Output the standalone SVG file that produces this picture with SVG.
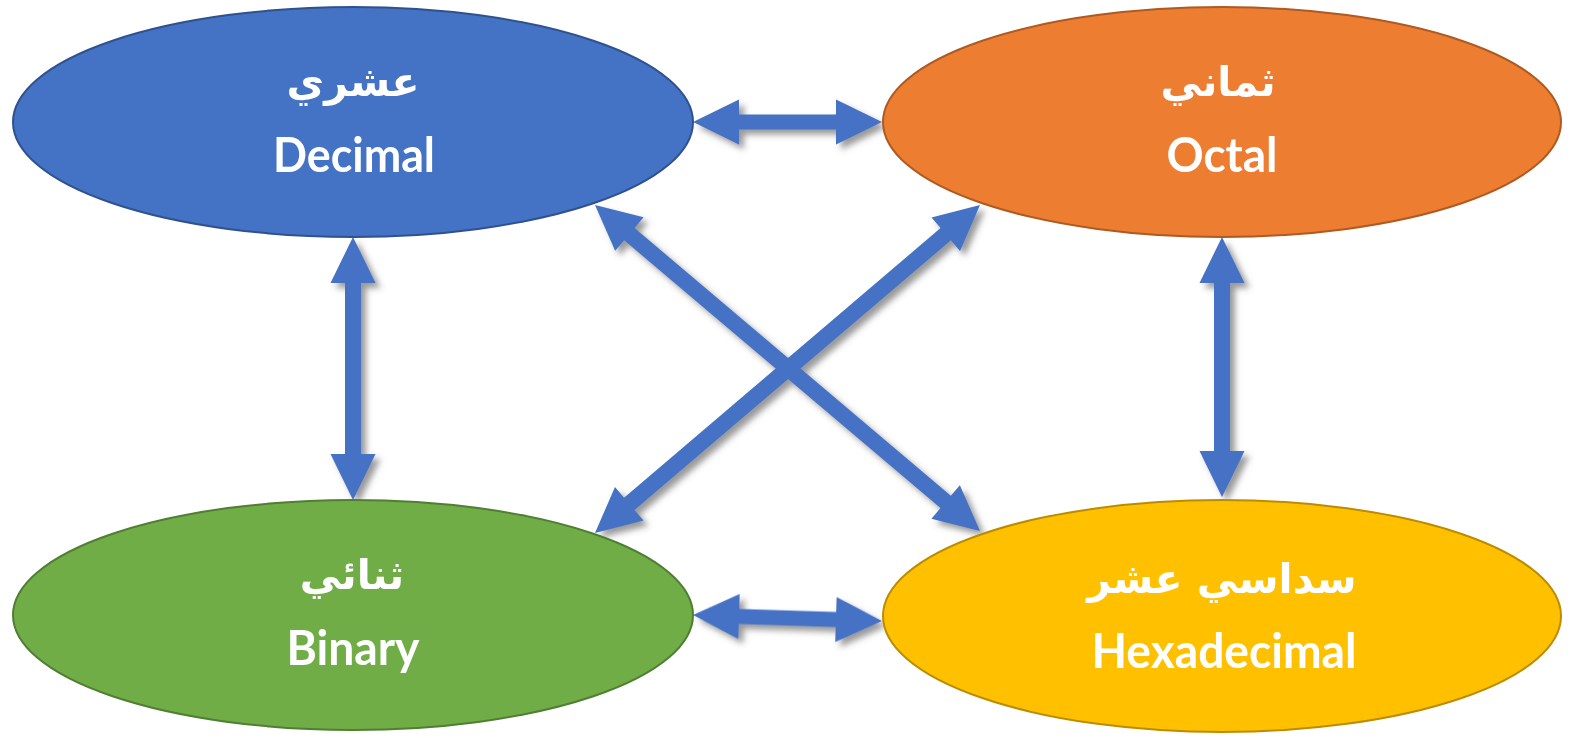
<svg xmlns="http://www.w3.org/2000/svg" width="1573" height="738" viewBox="0 0 1573 738">
<defs>
<filter id="sh" x="-20%" y="-20%" width="140%" height="140%">
<feDropShadow dx="5" dy="5" stdDeviation="3" flood-color="#555" flood-opacity="0.6"/>
</filter>
</defs>
<style>
.ar{font-family:"DejaVu Sans","Noto Sans",sans-serif;font-weight:bold;font-size:41px;fill:#fff;text-anchor:middle}
.en{font-family:Lato,"Open Sans",sans-serif;font-weight:bold;font-size:47px;fill:#fff;text-anchor:middle}
.arr{fill:#4472C4}
</style>
<rect width="1573" height="738" fill="#fff"/>
<g id="connectors" filter="url(#sh)">
<polygon class="arr" transform="translate(693,122)" points="0,0 46,-22.5 46,-7.5 143,-7.5 143,-22.5 189,0 143,22.5 143,7.5 46,7.5 46,22.5"/>
<polygon class="arr" transform="translate(693,615) rotate(1.82)" points="0,0 46,-22.5 46,-7.5 143,-7.5 143,-22.5 189,0 143,22.5 143,7.5 46,7.5 46,22.5"/>
<polygon class="arr" transform="translate(353,237) rotate(90)" points="0,0 46,-22.5 46,-8 217,-8 217,-22.5 263,0 217,22.5 217,8 46,8 46,22.5"/>
<polygon class="arr" transform="translate(1222,237) rotate(90)" points="0,0 46,-22.5 46,-8 214,-8 214,-22.5 260,0 214,22.5 214,8 46,8 46,22.5"/>
<polygon class="arr" transform="translate(595,205) rotate(40.26)" points="0,0 45,-22 45,-8 459.5,-8 459.5,-22 504.5,0 459.5,22 459.5,8 45,8 45,22"/>
<polygon class="arr" transform="translate(980,205) rotate(139.57)" points="0,0 45,-22 45,-8 460.8,-8 460.8,-22 505.8,0 460.8,22 460.8,8 45,8 45,22"/>
</g>
<g id="decimal">
<ellipse cx="353" cy="122" rx="340" ry="115" fill="#4472C4" stroke="#2F528F" stroke-width="2"/>
<text class="ar" x="353" y="96">عشري</text>
<text class="en" x="354" y="172" textLength="162" lengthAdjust="spacingAndGlyphs">Decimal</text>
</g>
<g id="octal">
<ellipse cx="1222" cy="122" rx="339" ry="115" fill="#ED7D31" stroke="#AE5A21" stroke-width="2"/>
<text class="ar" x="1218" y="96">ثماني</text>
<text class="en" x="1222" y="172" textLength="111" lengthAdjust="spacingAndGlyphs">Octal</text>
</g>
<g id="binary">
<ellipse cx="353" cy="615" rx="340" ry="115" fill="#70AD47" stroke="#507E32" stroke-width="2"/>
<text class="ar" x="352" y="589">ثنائي</text>
<text class="en" x="353" y="665" textLength="133" lengthAdjust="spacingAndGlyphs">Binary</text>
</g>
<g id="hexadecimal">
<ellipse cx="1222" cy="616" rx="339" ry="116" fill="#FFC000" stroke="#BC8C00" stroke-width="2"/>
<text class="ar" x="1222" y="593">سداسي عشر</text>
<text class="en" x="1224" y="668" textLength="265" lengthAdjust="spacingAndGlyphs">Hexadecimal</text>
</g>
</svg>
